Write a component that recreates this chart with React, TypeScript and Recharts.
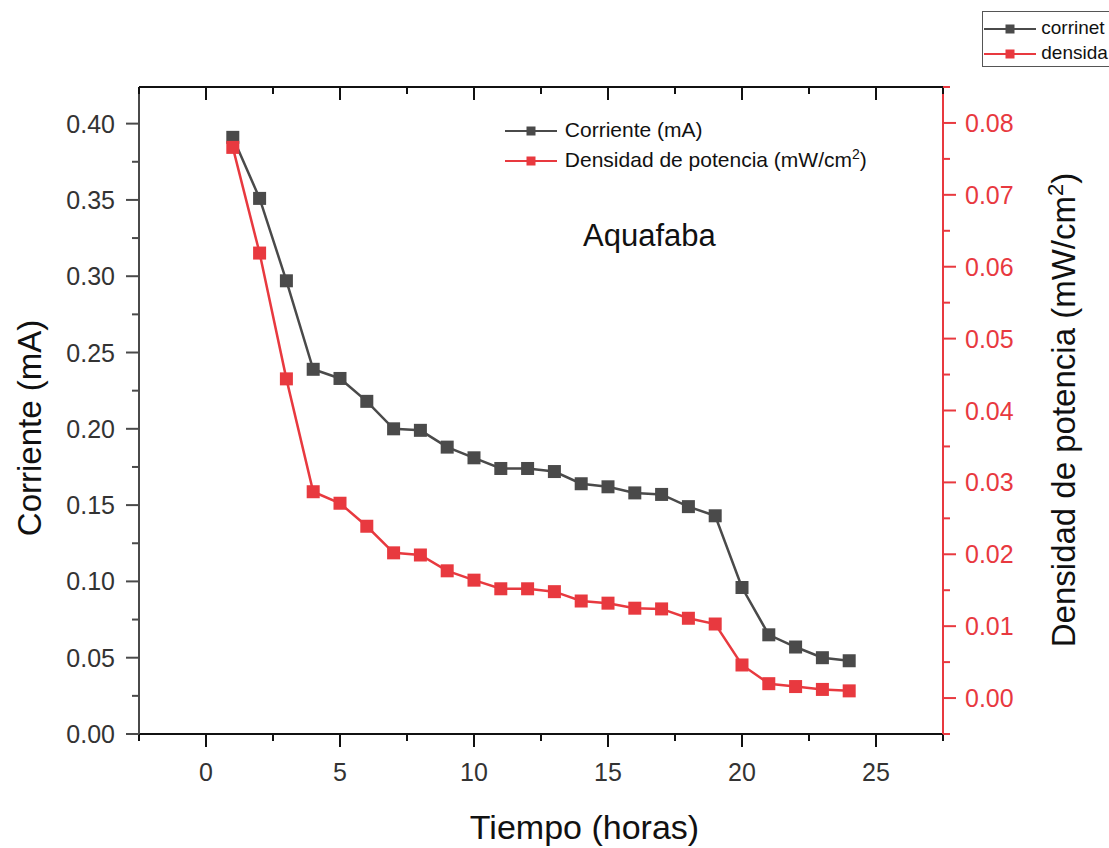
import React from 'react';
import { LineChart, Line, XAxis, YAxis } from 'recharts';

const hours = [1, 2, 3, 4, 5, 6, 7, 8, 9, 10, 11, 12, 13, 14, 15, 16, 17, 18, 19, 20, 21, 22, 23, 24];
const corriente = [
  0.391, 0.351, 0.297, 0.239, 0.233, 0.218, 0.2, 0.199, 0.188, 0.181, 0.174, 0.174,
  0.172, 0.164, 0.162, 0.158, 0.157, 0.149, 0.143, 0.096, 0.065, 0.057, 0.05, 0.048,
];
const densidad = [
  0.0766, 0.0619, 0.0444, 0.0287, 0.0271, 0.0239, 0.0202, 0.0199, 0.0177, 0.0164, 0.0152, 0.0152,
  0.0148, 0.0135, 0.0132, 0.0125, 0.0124, 0.0111, 0.0103, 0.0046, 0.002, 0.0016, 0.0012, 0.001,
];

const xTicks = [-2.5, 0, 2.5, 5, 7.5, 10, 12.5, 15, 17.5, 20, 22.5, 25, 27.5];
const leftTicks = [0, 0.025, 0.05, 0.075, 0.1, 0.125, 0.15, 0.175, 0.2, 0.225, 0.25, 0.275, 0.3, 0.325, 0.35, 0.375, 0.4];
const rightTicks = [-0.005, 0, 0.005, 0.01, 0.015, 0.02, 0.025, 0.03, 0.035, 0.04, 0.045, 0.05, 0.055, 0.06, 0.065, 0.07, 0.075, 0.08, 0.085];

const data = hours.map((h, i) => ({ h, corriente: corriente[i], densidad: densidad[i] }));

const GREY = '#4a4a4a';
const RED = '#e8393f';
const FONT = '"Liberation Sans", Arial, sans-serif';

const isMajor = (v: number, step: number) => Math.abs(Math.round(v / step) * step - v) < 1e-9;

const BottomTick = (props: any) => {
  const { x, y, payload } = props;
  const major = isMajor(payload.value, 5);
  return (
    <g>
      <line x1={x} y1={y} x2={x} y2={y + (major ? 13 : 7)} stroke="#111" strokeWidth={2} />
      {major && (
        <text x={x} y={y + 47} textAnchor="middle" fontSize={25} fill="#333" fontFamily={FONT}>
          {payload.value}
        </text>
      )}
    </g>
  );
};

const TopTick = (props: any) => {
  const { x, y, payload } = props;
  const major = isMajor(payload.value, 5);
  return <line x1={x} y1={y} x2={x} y2={y + (major ? 13 : 7)} stroke="#111" strokeWidth={2} />;
};

const LeftTick = (props: any) => {
  const { x, y, payload } = props;
  const major = isMajor(payload.value, 0.05);
  return (
    <g>
      <line x1={x} y1={y} x2={x - (major ? 13 : 7)} y2={y} stroke={GREY} strokeWidth={2} />
      {major && (
        <text x={x - 24} y={y + 9} textAnchor="end" fontSize={25} fill="#333" fontFamily={FONT}>
          {payload.value.toFixed(2)}
        </text>
      )}
    </g>
  );
};

const RightTick = (props: any) => {
  const { x, y, payload } = props;
  const major = isMajor(payload.value, 0.01);
  return (
    <g>
      <line x1={x} y1={y} x2={x + (major ? 13 : 7)} y2={y} stroke={RED} strokeWidth={2} />
      {major && payload.value >= 0 && (
        <text x={x + 22} y={y + 9} textAnchor="start" fontSize={25} fill={RED} fontFamily={FONT}>
          {payload.value.toFixed(2)}
        </text>
      )}
    </g>
  );
};

const squareDot = (color: string) => (props: any) => {
  const { cx, cy, index } = props;
  return <rect key={index} x={cx - 6.5} y={cy - 6.5} width={13} height={13} fill={color} />;
};

const LegendIcon = ({ color, width = 52, sq = 9 }: { color: string; width?: number; sq?: number }) => (
  <svg width={width} height={14} style={{ verticalAlign: 'middle' }}>
    <line x1={0} y1={7} x2={width} y2={7} stroke={color} strokeWidth={2} />
    <rect x={width / 2 - sq / 2} y={7 - sq / 2} width={sq} height={sq} fill={color} />
  </svg>
);

export default function App() {
  return (
    <div style={{ position: 'absolute', left: 0, top: 0, width: 1109, height: 848, background: '#fff', fontFamily: FONT, overflow: 'hidden' }}>
      <LineChart width={1109} height={848} data={data} margin={{ top: 77, right: 106, left: 79, bottom: 74 }}>
        <XAxis
          xAxisId="b"
          dataKey="h"
          type="number"
          domain={[-2.5, 27.5]}
          ticks={xTicks}
          interval={0}
          allowDataOverflow
          height={40}
          tickSize={0}
          tickMargin={0}
          tickLine={false}
          tick={<BottomTick />}
          axisLine={{ stroke: '#111', strokeWidth: 2 }}
        />
        <XAxis
          xAxisId="t"
          orientation="top"
          dataKey="h"
          type="number"
          domain={[-2.5, 27.5]}
          ticks={xTicks}
          interval={0}
          allowDataOverflow
          height={10}
          tickSize={0}
          tickMargin={0}
          tickLine={false}
          tick={<TopTick />}
          axisLine={{ stroke: '#111', strokeWidth: 2 }}
        />
        <YAxis
          yAxisId="l"
          type="number"
          domain={[0, 0.424]}
          ticks={leftTicks}
          interval={0}
          allowDataOverflow
          width={60}
          tickSize={0}
          tickMargin={0}
          tickLine={false}
          tick={<LeftTick />}
          axisLine={{ stroke: GREY, strokeWidth: 2 }}
        />
        <YAxis
          yAxisId="r"
          orientation="right"
          type="number"
          domain={[-0.005, 0.085]}
          ticks={rightTicks}
          interval={0}
          allowDataOverflow
          width={60}
          tickSize={0}
          tickMargin={0}
          tickLine={false}
          tick={<RightTick />}
          axisLine={{ stroke: RED, strokeWidth: 2 }}
        />
        <Line
          xAxisId="b"
          yAxisId="l"
          dataKey="corriente"
          type="linear"
          stroke={GREY}
          strokeWidth={2.5}
          dot={squareDot(GREY)}
          isAnimationActive={false}
        />
        <Line
          xAxisId="b"
          yAxisId="r"
          dataKey="densidad"
          type="linear"
          stroke={RED}
          strokeWidth={2.5}
          dot={squareDot(RED)}
          isAnimationActive={false}
        />
      </LineChart>

      {/* inner legend */}
      <div style={{ position: 'absolute', left: 505, top: 117, fontSize: 21, color: '#111', lineHeight: '25px' }}>
        <div style={{ whiteSpace: 'nowrap' }}>
          <LegendIcon color={GREY} /> <span style={{ marginLeft: 2 }}>Corriente (mA)</span>
        </div>
        <div style={{ whiteSpace: 'nowrap' }}>
          <LegendIcon color={RED} /> <span style={{ marginLeft: 2 }}>Densidad de potencia (mW/cm<sup style={{ fontSize: 14 }}>2</sup>)</span>
        </div>
      </div>

      {/* outer legend box, running off the right edge as in the original */}
      <div
        style={{
          position: 'absolute', left: 982, top: 11, width: 140, height: 56, border: '1px solid #555',
          fontSize: 19, color: '#111', lineHeight: '25px', paddingTop: 3, paddingLeft: 1, boxSizing: 'border-box', whiteSpace: 'nowrap',
        }}
      >
        <div><LegendIcon color={GREY} /> corrinet</div>
        <div><LegendIcon color={RED} /> densida</div>
      </div>

      <div style={{ position: 'absolute', left: 583, top: 218, fontSize: 31, color: '#111' }}>Aquafaba</div>

      <div style={{ position: 'absolute', left: 0, width: 1109, top: 808, textAlign: 'center', fontSize: 34, color: '#111' }}>
        <span style={{ position: 'relative', left: 30 }}>Tiempo (horas)</span>
      </div>

      <div
        style={{
          position: 'absolute', left: 30, top: 428, transform: 'translate(-50%, -50%) rotate(-90deg)',
          fontSize: 33, color: '#111', whiteSpace: 'nowrap',
        }}
      >
        Corriente (mA)
      </div>
      <div
        style={{
          position: 'absolute', left: 1063, top: 410, transform: 'translate(-50%, -50%) rotate(-90deg)',
          fontSize: 33, color: '#111', whiteSpace: 'nowrap',
        }}
      >
        Densidad de potencia (mW/cm<sup style={{ fontSize: 22 }}>2</sup>)
      </div>
    </div>
  );
}
